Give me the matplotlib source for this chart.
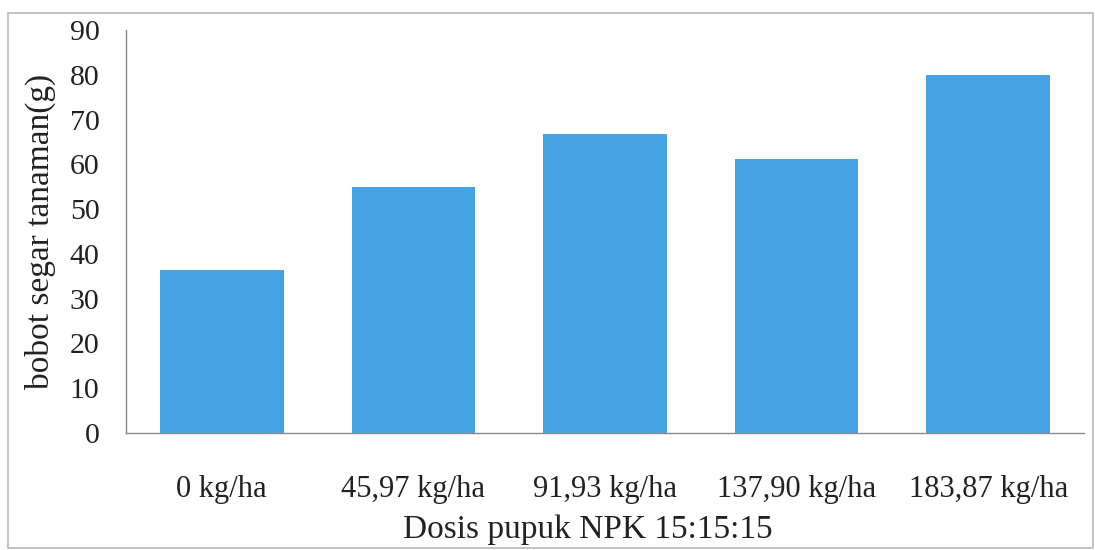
import matplotlib.pyplot as plt
from matplotlib.patches import Rectangle

plt.rcParams["font.family"] = ["Liberation Serif", "DejaVu Serif"]

doses = ["0 kg/ha", "45,97 kg/ha", "91,93 kg/ha", "137,90 kg/ha", "183,87 kg/ha"]
fresh_weight = [36.3, 55.0, 66.8, 61.3, 80.0]
y_ticks = [0, 10, 20, 30, 40, 50, 60, 70, 80, 90]

BAR_COLOR = "#46a2e3"

fig = plt.figure(figsize=(10.95, 5.5), dpi=100)

# thin frame around the whole chart area
fig.patches.append(Rectangle(
    (0.007, 0.004), 0.991, 0.972,
    transform=fig.transFigure, fill=False, ec="#b8b8b8", lw=1.2
))

ax = fig.add_axes([0.115, 0.213, 0.875, 0.732])
x = range(len(doses))
ax.bar(x, fresh_weight, width=0.645, color=BAR_COLOR)

ax.set_xlim(-0.5, len(doses) - 0.5)
ax.set_ylim(0, 90)
ax.set_yticks(y_ticks)
ax.set_xticks(list(x))
ax.set_xticklabels(doses)

for side in ("top", "right"):
    ax.spines[side].set_visible(False)
for side in ("left", "bottom"):
    ax.spines[side].set_color("#8a8a8a")
    ax.spines[side].set_linewidth(1.0)

ax.tick_params(axis="both", length=0, colors="#222222")
ax.tick_params(axis="x", labelsize=22, pad=30)
ax.tick_params(axis="y", labelsize=21.5, pad=19)

ax.set_xlabel("Dosis pupuk NPK 15:15:15", fontsize=24, color="#222222", labelpad=8)
ax.xaxis.label.set_x(0.482)
ax.set_ylabel("bobot segar tanaman(g)", fontsize=24, color="#222222", labelpad=10)

fig.savefig("out.png", dpi=100)
